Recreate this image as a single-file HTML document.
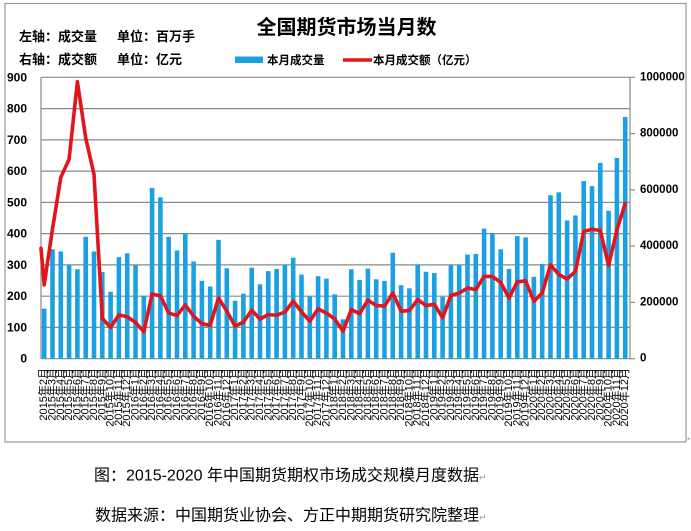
<!DOCTYPE html>
<html>
<head>
<meta charset="utf-8">
<style>
html,body{margin:0;padding:0;background:#fff;}
svg{display:block;}
text{font-family:"Liberation Sans","Noto Sans CJK SC",sans-serif;}
</style>
</head>
<body>
<svg width="691" height="531" viewBox="0 0 691 531" xmlns="http://www.w3.org/2000/svg">
<rect x="0" y="0" width="691" height="531" fill="#fff"/>
<rect x="5" y="3.5" width="681" height="438.5" fill="none" stroke="#9a9a9a" stroke-width="1.2"/>

<!-- Title -->
<text x="346.5" y="34" font-size="20" font-weight="bold" text-anchor="middle" fill="#000">全国期货市场当月数</text>
<text x="19" y="41" font-size="13" font-weight="bold" fill="#000">左轴：成交量</text>
<text x="117" y="41" font-size="13" font-weight="bold" fill="#000">单位：百万手</text>
<text x="19" y="64" font-size="13" font-weight="bold" fill="#000">右轴：成交额</text>
<text x="117" y="64" font-size="13" font-weight="bold" fill="#000">单位：亿元</text>

<!-- Legend -->
<rect x="235" y="56.5" width="28" height="6.5" fill="#1ba1e2"/>
<text x="267" y="64" font-size="11.5" font-weight="bold" fill="#000">本月成交量</text>
<line x1="343" y1="60" x2="372" y2="60" stroke="#e3141b" stroke-width="3.5"/>
<text x="373" y="64" font-size="11.5" font-weight="bold" fill="#000">本月成交额（亿元）</text>

<!-- Gridlines -->
<g stroke="#8a8a8a" stroke-width="1.2">
<line x1="41" y1="77.3" x2="630" y2="77.3"/>
<line x1="41" y1="108.6" x2="630" y2="108.6"/>
<line x1="41" y1="139.9" x2="630" y2="139.9"/>
<line x1="41" y1="171.1" x2="630" y2="171.1"/>
<line x1="41" y1="202.4" x2="630" y2="202.4"/>
<line x1="41" y1="233.6" x2="630" y2="233.6"/>
<line x1="41" y1="264.9" x2="630" y2="264.9"/>
<line x1="41" y1="296.2" x2="630" y2="296.2"/>
<line x1="41" y1="327.4" x2="630" y2="327.4"/>
<line x1="41" y1="358.7" x2="630" y2="358.7"/>
<line x1="41" y1="77.3" x2="41" y2="358.7"/>
<line x1="630" y1="77.3" x2="630" y2="358.7"/>
<line x1="630" y1="77.3" x2="635" y2="77.3"/>
<line x1="630" y1="133.6" x2="635" y2="133.6"/>
<line x1="630" y1="189.9" x2="635" y2="189.9"/>
<line x1="630" y1="246.1" x2="635" y2="246.1"/>
<line x1="630" y1="302.4" x2="635" y2="302.4"/>
<line x1="630" y1="358.7" x2="635" y2="358.7"/>
</g>

<!-- Left axis labels -->
<g font-size="12" font-weight="bold" fill="#000" text-anchor="end" dominant-baseline="central">
<text x="27" y="77.3">900</text>
<text x="27" y="108.6">800</text>
<text x="27" y="139.9">700</text>
<text x="27" y="171.1">600</text>
<text x="27" y="202.4">500</text>
<text x="27" y="233.6">400</text>
<text x="27" y="264.9">300</text>
<text x="27" y="296.2">200</text>
<text x="27" y="327.4">100</text>
<text x="27" y="358.7">0</text>
</g>

<!-- Right axis labels -->
<g font-size="11.5" font-weight="bold" fill="#000" dominant-baseline="central">
<text x="640" y="77.3">1000000</text>
<text x="640" y="133.6">800000</text>
<text x="640" y="189.9">600000</text>
<text x="640" y="246.1">400000</text>
<text x="640" y="302.4">200000</text>
<text x="640" y="358.7">0</text>
</g>

<!-- Bars -->
<g transform="translate(44.2,358.7) scale(8.3,-0.3127)" fill="#1ba1e2">
<rect x="-0.277" y="0" width="0.554" height="160"/>
<rect x="0.723" y="0" width="0.554" height="350"/>
<rect x="1.723" y="0" width="0.554" height="343"/>
<rect x="2.723" y="0" width="0.554" height="300"/>
<rect x="3.723" y="0" width="0.554" height="286"/>
<rect x="4.723" y="0" width="0.554" height="390"/>
<rect x="5.723" y="0" width="0.554" height="343"/>
<rect x="6.723" y="0" width="0.554" height="277"/>
<rect x="7.723" y="0" width="0.554" height="214"/>
<rect x="8.723" y="0" width="0.554" height="325"/>
<rect x="9.723" y="0" width="0.554" height="337"/>
<rect x="10.723" y="0" width="0.554" height="298"/>
<rect x="11.723" y="0" width="0.554" height="201"/>
<rect x="12.723" y="0" width="0.554" height="546"/>
<rect x="13.723" y="0" width="0.554" height="516"/>
<rect x="14.723" y="0" width="0.554" height="390"/>
<rect x="15.723" y="0" width="0.554" height="346"/>
<rect x="16.723" y="0" width="0.554" height="400"/>
<rect x="17.723" y="0" width="0.554" height="311"/>
<rect x="18.723" y="0" width="0.554" height="249"/>
<rect x="19.723" y="0" width="0.554" height="231"/>
<rect x="20.723" y="0" width="0.554" height="380"/>
<rect x="21.723" y="0" width="0.554" height="289"/>
<rect x="22.723" y="0" width="0.554" height="185"/>
<rect x="23.723" y="0" width="0.554" height="208"/>
<rect x="24.723" y="0" width="0.554" height="291"/>
<rect x="25.723" y="0" width="0.554" height="238"/>
<rect x="26.723" y="0" width="0.554" height="280"/>
<rect x="27.723" y="0" width="0.554" height="287"/>
<rect x="28.723" y="0" width="0.554" height="300"/>
<rect x="29.723" y="0" width="0.554" height="323"/>
<rect x="30.723" y="0" width="0.554" height="269"/>
<rect x="31.723" y="0" width="0.554" height="200"/>
<rect x="32.723" y="0" width="0.554" height="264"/>
<rect x="33.723" y="0" width="0.554" height="256"/>
<rect x="34.723" y="0" width="0.554" height="206"/>
<rect x="35.723" y="0" width="0.554" height="126"/>
<rect x="36.723" y="0" width="0.554" height="286"/>
<rect x="37.723" y="0" width="0.554" height="252"/>
<rect x="38.723" y="0" width="0.554" height="288"/>
<rect x="39.723" y="0" width="0.554" height="254"/>
<rect x="40.723" y="0" width="0.554" height="249"/>
<rect x="41.723" y="0" width="0.554" height="339"/>
<rect x="42.723" y="0" width="0.554" height="235"/>
<rect x="43.723" y="0" width="0.554" height="225"/>
<rect x="44.723" y="0" width="0.554" height="301"/>
<rect x="45.723" y="0" width="0.554" height="278"/>
<rect x="46.723" y="0" width="0.554" height="274"/>
<rect x="47.723" y="0" width="0.554" height="198"/>
<rect x="48.723" y="0" width="0.554" height="300"/>
<rect x="49.723" y="0" width="0.554" height="300"/>
<rect x="50.723" y="0" width="0.554" height="333"/>
<rect x="51.723" y="0" width="0.554" height="335"/>
<rect x="52.723" y="0" width="0.554" height="416"/>
<rect x="53.723" y="0" width="0.554" height="400"/>
<rect x="54.723" y="0" width="0.554" height="350"/>
<rect x="55.723" y="0" width="0.554" height="287"/>
<rect x="56.723" y="0" width="0.554" height="392"/>
<rect x="57.723" y="0" width="0.554" height="388"/>
<rect x="58.723" y="0" width="0.554" height="262"/>
<rect x="59.723" y="0" width="0.554" height="303"/>
<rect x="60.723" y="0" width="0.554" height="523"/>
<rect x="61.723" y="0" width="0.554" height="532"/>
<rect x="62.723" y="0" width="0.554" height="442"/>
<rect x="63.723" y="0" width="0.554" height="458"/>
<rect x="64.723" y="0" width="0.554" height="568"/>
<rect x="65.723" y="0" width="0.554" height="552"/>
<rect x="66.723" y="0" width="0.554" height="626"/>
<rect x="67.723" y="0" width="0.554" height="473"/>
<rect x="68.723" y="0" width="0.554" height="642"/>
<rect x="69.723" y="0" width="0.554" height="773"/>
</g>

<!-- Line -->
<g transform="translate(44.2,358.7) scale(8.3,-0.3127)">
<polyline fill="none" stroke="#e3141b" stroke-width="3.6" stroke-linejoin="round" stroke-linecap="round" vector-effect="non-scaling-stroke"
points="-0.386,353 0,236 1,415 2,580 3,638 4,886 5,706 6,590 7,129 8,100 9,140 10,134 11,116 12,86 13,207 14,201 15,146 16,138 17,172 18,136 19,112 20,107 21,194 22,152 23,104 24,117 25,155 26,127 27,141 28,139 29,149 30,184 31,150 32,120 33,159 34,146 35,127 36,88 37,157 38,144 39,187 40,170 41,168 42,210 43,152 44,154 45,189 46,170 47,174 48,131 49,202 50,210 51,226 52,221 53,263 54,263 55,244 56,194 57,246 58,249 59,184 60,210 61,300 62,269 63,255 64,279 65,407 66,414 67,410 68,298 69,412 70,496"/>
</g>

<!-- X axis labels -->
<g font-size="11" fill="#000" text-anchor="end" dominant-baseline="central">
<text transform="translate(44.2,368) rotate(-90)">2015年2月</text>
<text transform="translate(52.5,368) rotate(-90)">2015年3月</text>
<text transform="translate(60.8,368) rotate(-90)">2015年4月</text>
<text transform="translate(69.1,368) rotate(-90)">2015年5月</text>
<text transform="translate(77.4,368) rotate(-90)">2015年6月</text>
<text transform="translate(85.7,368) rotate(-90)">2015年7月</text>
<text transform="translate(94.0,368) rotate(-90)">2015年8月</text>
<text transform="translate(102.3,368) rotate(-90)">2015年9月</text>
<text transform="translate(110.6,368) rotate(-90)">2015年10月</text>
<text transform="translate(118.9,368) rotate(-90)">2015年11月</text>
<text transform="translate(127.2,368) rotate(-90)">2015年12月</text>
<text transform="translate(135.5,368) rotate(-90)">2016年1月</text>
<text transform="translate(143.8,368) rotate(-90)">2016年2月</text>
<text transform="translate(152.1,368) rotate(-90)">2016年3月</text>
<text transform="translate(160.4,368) rotate(-90)">2016年4月</text>
<text transform="translate(168.7,368) rotate(-90)">2016年5月</text>
<text transform="translate(177.0,368) rotate(-90)">2016年6月</text>
<text transform="translate(185.3,368) rotate(-90)">2016年7月</text>
<text transform="translate(193.6,368) rotate(-90)">2016年8月</text>
<text transform="translate(201.9,368) rotate(-90)">2016年9月</text>
<text transform="translate(210.2,368) rotate(-90)">2016年10月</text>
<text transform="translate(218.5,368) rotate(-90)">2016年11月</text>
<text transform="translate(226.8,368) rotate(-90)">2016年12月</text>
<text transform="translate(235.1,368) rotate(-90)">2017年1月</text>
<text transform="translate(243.4,368) rotate(-90)">2017年2月</text>
<text transform="translate(251.7,368) rotate(-90)">2017年3月</text>
<text transform="translate(260.0,368) rotate(-90)">2017年4月</text>
<text transform="translate(268.3,368) rotate(-90)">2017年5月</text>
<text transform="translate(276.6,368) rotate(-90)">2017年6月</text>
<text transform="translate(284.9,368) rotate(-90)">2017年7月</text>
<text transform="translate(293.2,368) rotate(-90)">2017年8月</text>
<text transform="translate(301.5,368) rotate(-90)">2017年9月</text>
<text transform="translate(309.8,368) rotate(-90)">2017年10月</text>
<text transform="translate(318.1,368) rotate(-90)">2017年11月</text>
<text transform="translate(326.4,368) rotate(-90)">2017年12月</text>
<text transform="translate(334.7,368) rotate(-90)">2018年1月</text>
<text transform="translate(343.0,368) rotate(-90)">2018年2月</text>
<text transform="translate(351.3,368) rotate(-90)">2018年3月</text>
<text transform="translate(359.6,368) rotate(-90)">2018年4月</text>
<text transform="translate(367.9,368) rotate(-90)">2018年5月</text>
<text transform="translate(376.2,368) rotate(-90)">2018年6月</text>
<text transform="translate(384.5,368) rotate(-90)">2018年7月</text>
<text transform="translate(392.8,368) rotate(-90)">2018年8月</text>
<text transform="translate(401.1,368) rotate(-90)">2018年9月</text>
<text transform="translate(409.4,368) rotate(-90)">2018年10月</text>
<text transform="translate(417.7,368) rotate(-90)">2018年11月</text>
<text transform="translate(426.0,368) rotate(-90)">2018年12月</text>
<text transform="translate(434.3,368) rotate(-90)">2019年1月</text>
<text transform="translate(442.6,368) rotate(-90)">2019年2月</text>
<text transform="translate(450.9,368) rotate(-90)">2019年3月</text>
<text transform="translate(459.2,368) rotate(-90)">2019年4月</text>
<text transform="translate(467.5,368) rotate(-90)">2019年5月</text>
<text transform="translate(475.8,368) rotate(-90)">2019年6月</text>
<text transform="translate(484.1,368) rotate(-90)">2019年7月</text>
<text transform="translate(492.4,368) rotate(-90)">2019年8月</text>
<text transform="translate(500.7,368) rotate(-90)">2019年9月</text>
<text transform="translate(509.0,368) rotate(-90)">2019年10月</text>
<text transform="translate(517.3,368) rotate(-90)">2019年11月</text>
<text transform="translate(525.6,368) rotate(-90)">2019年12月</text>
<text transform="translate(533.9,368) rotate(-90)">2020年1月</text>
<text transform="translate(542.2,368) rotate(-90)">2020年2月</text>
<text transform="translate(550.5,368) rotate(-90)">2020年3月</text>
<text transform="translate(558.8,368) rotate(-90)">2020年4月</text>
<text transform="translate(567.1,368) rotate(-90)">2020年5月</text>
<text transform="translate(575.4,368) rotate(-90)">2020年6月</text>
<text transform="translate(583.7,368) rotate(-90)">2020年7月</text>
<text transform="translate(592.0,368) rotate(-90)">2020年8月</text>
<text transform="translate(600.3,368) rotate(-90)">2020年9月</text>
<text transform="translate(608.6,368) rotate(-90)">2020年10月</text>
<text transform="translate(616.9,368) rotate(-90)">2020年11月</text>
<text transform="translate(625.2,368) rotate(-90)">2020年12月</text>
</g>

<text x="687" y="441" font-size="7" fill="#999">↵</text>

<!-- Captions -->
<text x="94" y="480.5" font-size="16" fill="#000">图：2015-2020 年中国期货期权市场成交规模月度数据<tspan font-size="9" fill="#999">↵</tspan></text>
<text x="95" y="520.5" font-size="16" fill="#000">数据来源：中国期货业协会、方正中期期货研究院整理<tspan font-size="9" fill="#999">↵</tspan></text>
</svg>
</body>
</html>
